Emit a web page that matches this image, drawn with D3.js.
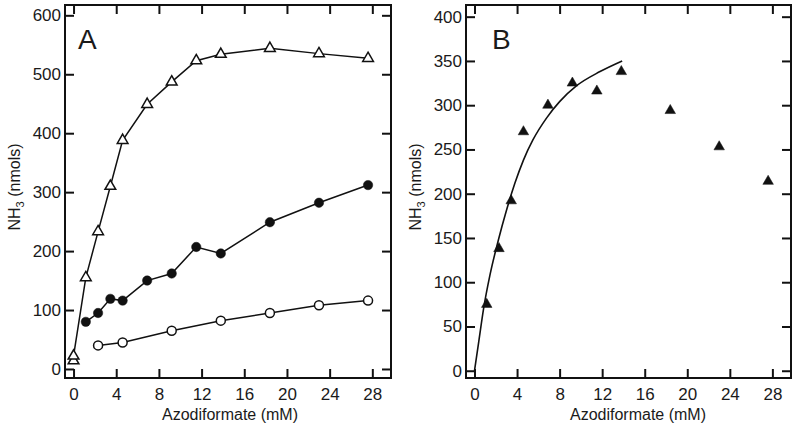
<!DOCTYPE html>
<html>
<head>
<meta charset="utf-8">
<script src="https://cdn.jsdelivr.net/npm/d3@7/dist/d3.min.js"></script>
<style>
  html, body { margin: 0; padding: 0; background: #fff; }
  svg { display: block; }
  text { font-family: "Liberation Sans", Arial, Helvetica, sans-serif; fill: #1a1a1a; }
</style>
</head>
<body>
<svg id="chart" width="800" height="428"></svg>
<script>
// ---- Data ----
const xTicks = [0, 4, 8, 12, 16, 20, 24, 28];
const yTicksA = [0, 100, 200, 300, 400, 500, 600];
const yTicksB = [0, 50, 100, 150, 200, 250, 300, 350, 400];

// Panel A
const openTriX = [0, 0, 1.15, 2.3, 3.45, 4.6, 6.9, 9.2, 11.5, 13.8, 18.4, 23, 27.6];
const openTriY = [14, 22, 155, 233, 310, 388, 449, 487, 523, 534, 544, 535, 527];
const filledCircX = [1.15, 2.3, 3.45, 4.6, 6.9, 9.2, 11.5, 13.8, 18.4, 23, 27.6];
const filledCircY = [80, 95, 119, 116, 150, 162, 207, 196, 249, 282, 312];
const openCircX = [2.3, 4.6, 9.2, 13.8, 18.4, 23, 27.6];
const openCircY = [40, 45, 65, 82, 95, 108, 116];

// Panel B
const filledTriX = [1.15, 2.3, 3.45, 4.6, 6.9, 9.2, 11.5, 13.8, 18.4, 23, 27.6];
const filledTriY = [75, 138, 192, 270, 300, 325, 316, 338, 294, 253, 214];
const fitX = [0, 0.4, 0.85, 1.45, 2.25, 3.0, 3.8, 4.6, 5.5, 6.8, 8.0, 9.6, 11.8, 13.88];
const fitY = [0, 33, 70, 108, 148, 181, 212, 238, 261, 286, 304, 322, 338, 350];

const xTitle = "Azodiformate (mM)";

// ---- Drawing ----
const svg = d3.select("#chart");
const zip = (xs, ys) => xs.map((x, i) => [x, ys[i]]);

function panel(cfg) {
  const x = d3.scaleLinear().domain([-0.8, 29.75]).range([cfg.left, cfg.right]);
  const y = d3.scaleLinear().domain(cfg.yDomain).range([cfg.bottom, cfg.top]);
  const g = svg.append("g");
  const tl = 9;

  const ax = (gen, tx, ty, labels) => {
    const a = g.append("g").attr("transform", `translate(${tx},${ty})`).call(gen);
    a.select(".domain").remove();
    a.selectAll(".tick line").attr("stroke", "#111").attr("stroke-width", 2);
    a.selectAll("text").style("font-size", "17px").attr("fill", "#1a1a1a");
    if (!labels) a.selectAll("text").remove();
    return a;
  };
  ax(d3.axisBottom(x).tickValues(xTicks).tickSize(-tl).tickPadding(10), 0, cfg.bottom, true);
  ax(d3.axisTop(x).tickValues(xTicks).tickSize(-tl), 0, cfg.top, false);
  ax(d3.axisLeft(y).tickValues(cfg.yTicks).tickSize(-tl).tickPadding(4), cfg.left, 0, true);
  ax(d3.axisRight(y).tickValues(cfg.yTicks).tickSize(-tl), cfg.right, 0, false);

  g.append("rect")
    .attr("x", cfg.left).attr("y", cfg.top)
    .attr("width", cfg.right - cfg.left).attr("height", cfg.bottom - cfg.top)
    .attr("fill", "none").attr("stroke", "#111").attr("stroke-width", 2);

  // x title
  g.append("text").attr("x", cfg.xTitleX).attr("y", 420)
    .attr("text-anchor", "middle").style("font-size", "16px").text(xTitle);

  // y title with subscript
  const yt = g.append("text")
    .attr("transform", `translate(${cfg.yTitleX},187) rotate(-90)`)
    .attr("text-anchor", "middle").style("font-size", "16px");
  yt.append("tspan").text("NH");
  yt.append("tspan").attr("dy", 4).style("font-size", "11px").text("3");
  yt.append("tspan").attr("dy", -4).text(" (nmols)");

  // panel letter
  g.append("text").attr("x", cfg.letterX).attr("y", 49)
    .style("font-size", "28px").text(cfg.letter);

  return { g, x, y };
}

const A = panel({ left: 65, right: 391, top: 5, bottom: 378, yDomain: [-15.3, 617.5],
  yTicks: yTicksA, xTitleX: 230, yTitleX: 20, letterX: 78, letter: "A" });
const B = panel({ left: 466, right: 791, top: 5, bottom: 378, yDomain: [-8.2, 413.2],
  yTicks: yTicksB, xTitleX: 638, yTitleX: 421, letterX: 492, letter: "B" });

function series(P, xs, ys, kind) {
  const pts = zip(xs, ys);
  const line = d3.line().x(d => P.x(d[0])).y(d => P.y(d[1]));
  if (kind.line) {
    P.g.append("path").datum(pts).attr("d", line)
      .attr("fill", "none").attr("stroke", "#111").attr("stroke-width", 1.5);
  }
  if (kind.shape === "circle") {
    P.g.selectAll(null).data(pts).enter().append("circle")
      .attr("cx", d => P.x(d[0])).attr("cy", d => P.y(d[1]))
      .attr("r", kind.filled ? 4.7 : 4.5)
      .attr("fill", kind.filled ? "#111" : "#fff")
      .attr("stroke", "#111").attr("stroke-width", kind.filled ? 0.5 : 1.5);
  } else if (kind.shape === "triangle") {
    const sym = d3.symbol(d3.symbolTriangle, kind.filled ? 48 : 50);
    P.g.selectAll(null).data(pts).enter().append("path")
      .attr("d", sym)
      .attr("transform", d => `translate(${P.x(d[0])},${P.y(d[1])})`)
      .attr("fill", kind.filled ? "#111" : "#fff")
      .attr("stroke", "#111").attr("stroke-width", kind.filled ? 0.5 : 1.5)
      .attr("stroke-linejoin", "miter");
  }
}

series(A, openCircX, openCircY, { line: true, shape: "circle", filled: false });
series(A, filledCircX, filledCircY, { line: true, shape: "circle", filled: true });
series(A, openTriX, openTriY, { line: true, shape: "triangle", filled: false });

// Panel B fit curve
B.g.append("path").datum(zip(fitX, fitY))
  .attr("d", d3.line().x(d => B.x(d[0])).y(d => B.y(d[1])).curve(d3.curveMonotoneX))
  .attr("fill", "none").attr("stroke", "#111").attr("stroke-width", 1.6);
series(B, filledTriX, filledTriY, { line: false, shape: "triangle", filled: true });
</script>
</body>
</html>
